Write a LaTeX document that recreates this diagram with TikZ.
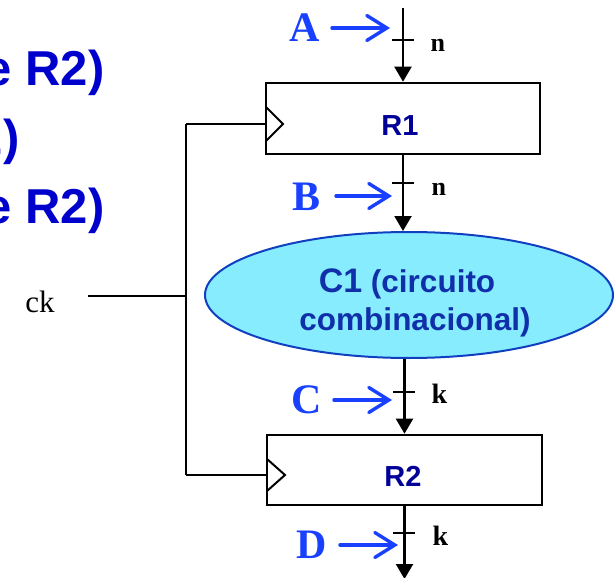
\documentclass[tikz,border=0pt]{standalone}
\usepackage{fontspec}
\setmainfont{Liberation Serif}
\newfontfamily\arialf{Liberation Sans}
\usetikzlibrary{arrows.meta,shapes.geometric}
\definecolor{leftblue}{RGB}{0,0,204}
\definecolor{letblue}{RGB}{25,64,255}
\definecolor{navy}{RGB}{0,0,153}
\definecolor{ellfill}{RGB}{136,236,255}
\definecolor{elldraw}{RGB}{16,64,192}
\definecolor{elltext}{RGB}{16,48,170}
\tikzset{
  reg/.style={draw, line width=2.6pt, inner sep=0pt},
  regtext/.style={text=navy, font=\arialf\bfseries\fontsize{29}{29}\selectfont},
  sig/.style={line width=2.2pt, -{Triangle[width=17pt,length=15pt]}},
  tickmark/.style={line width=2.2pt},
  letter/.style={text=letblue, font=\bfseries\fontsize{42}{42}\selectfont},
  bluearrow/.style={line width=3.4pt, letblue, line cap=round, -{Straight Barb[width=25pt,length=20pt,line cap=round]}},
  width label/.style={anchor=base west, font=\bfseries\fontsize{26}{26}\selectfont},
  clockline/.style={line width=2pt},
  lefttext/.style={anchor=base east, text=leftblue, font=\arialf\bfseries\fontsize{49}{49}\selectfont},
  elltxt/.style={anchor=base, text=elltext, font=\arialf\bfseries\fontsize{31.5}{31.5}\selectfont}
}
\begin{document}
\begin{tikzpicture}[x=1pt,y=-1pt]
\useasboundingbox (0,0) rectangle (614,578);
\clip (0,0) rectangle (614,578);
% clipped left texts
\node[lefttext] (t1) at (108,85) {e R2)};
\node[lefttext] (t2) at (23,154) {2)};
\node[lefttext] (t3) at (108,223) {e R2)};
% registers
\node[reg, minimum width=274pt, minimum height=71pt] (r1) at (403,118.5) {};
\node[regtext] (r1t) at (400,126) {R1};
\node[reg, minimum width=275pt, minimum height=70pt] (r2) at (404.5,470) {};
\node[regtext] (r2t) at (403,476) {R2};
% combinational circuit
\node[ellipse, draw=elldraw, fill=ellfill, line width=2pt, minimum width=408pt, minimum height=126pt, inner sep=0pt] (c1) at (409,295) {};
\node[elltxt] (c1a) at (407,292) {{\fontsize{34}{34}\selectfont C1} (circuito};
\node[elltxt] (c1b) at (415,330) {combinacional)};
% clock
\coordinate (ck0) at (88,296);
\coordinate (ckj) at (186,296);
\coordinate (ck1) at (186,124);
\coordinate (ck2) at (186,475);
\coordinate (r1ck) at (266,124);
\coordinate (r2ck) at (267,475);
\node[anchor=base, font=\fontsize{31}{31}\selectfont] (ck) at (40,312) {ck};
\draw[clockline] (ck0) -- (ckj);
\draw[clockline] (ck1) -- (ck2);
\draw[clockline] (ck1) -- (r1ck);
\draw[clockline] (ck2) -- (r2ck);
\draw[line width=2pt, line join=miter] (266,107) -- (283,124) -- (266,141);
\draw[line width=2pt, line join=miter] (267,459) -- (285,475) -- (267,491);
% signals
\coordinate (atop) at (403,8);
\draw[sig] (atop) -- (r1.north);
\draw[sig] (r1.south) -- (r1.south |- c1.north);
\draw[sig] (r2.north |- c1.south) -- (r2.north);
\coordinate (dend) at (404.5,579);
\draw[sig] (r2.south) -- (dend);
% ticks
\draw[tickmark] (392,40) -- (414,40);
\draw[tickmark] (392,183) -- (414,183);
\draw[tickmark] (393,392) -- (415,392);
\draw[tickmark] (393,533) -- (415,533);
\node[width label] (n1) at (427,52) {n};
\node[width label] (n2) at (428,195) {n};
\node[width label, font=\bfseries\fontsize{28}{28}\selectfont] (k1) at (428,403) {k};
\node[width label, font=\bfseries\fontsize{28}{28}\selectfont] (k2) at (429,545) {k};
% letters and arrows
\node[letter] (A) at (305,28) {A};
\node[letter] (B) at (307,197) {B};
\node[letter] (C) at (307,400) {C};
\node[letter] (D) at (312,545) {D};
\coordinate (ae) at (390,28);
\coordinate (be) at (392,196);
\coordinate (ce) at (392,400);
\coordinate (de) at (398,545);
\draw[bluearrow] (332,28) -- (ae);
\draw[bluearrow] (336,196) -- (be);
\draw[bluearrow] (334,400) -- (ce);
\draw[bluearrow] (340,545) -- (de);
\end{tikzpicture}
\end{document}
